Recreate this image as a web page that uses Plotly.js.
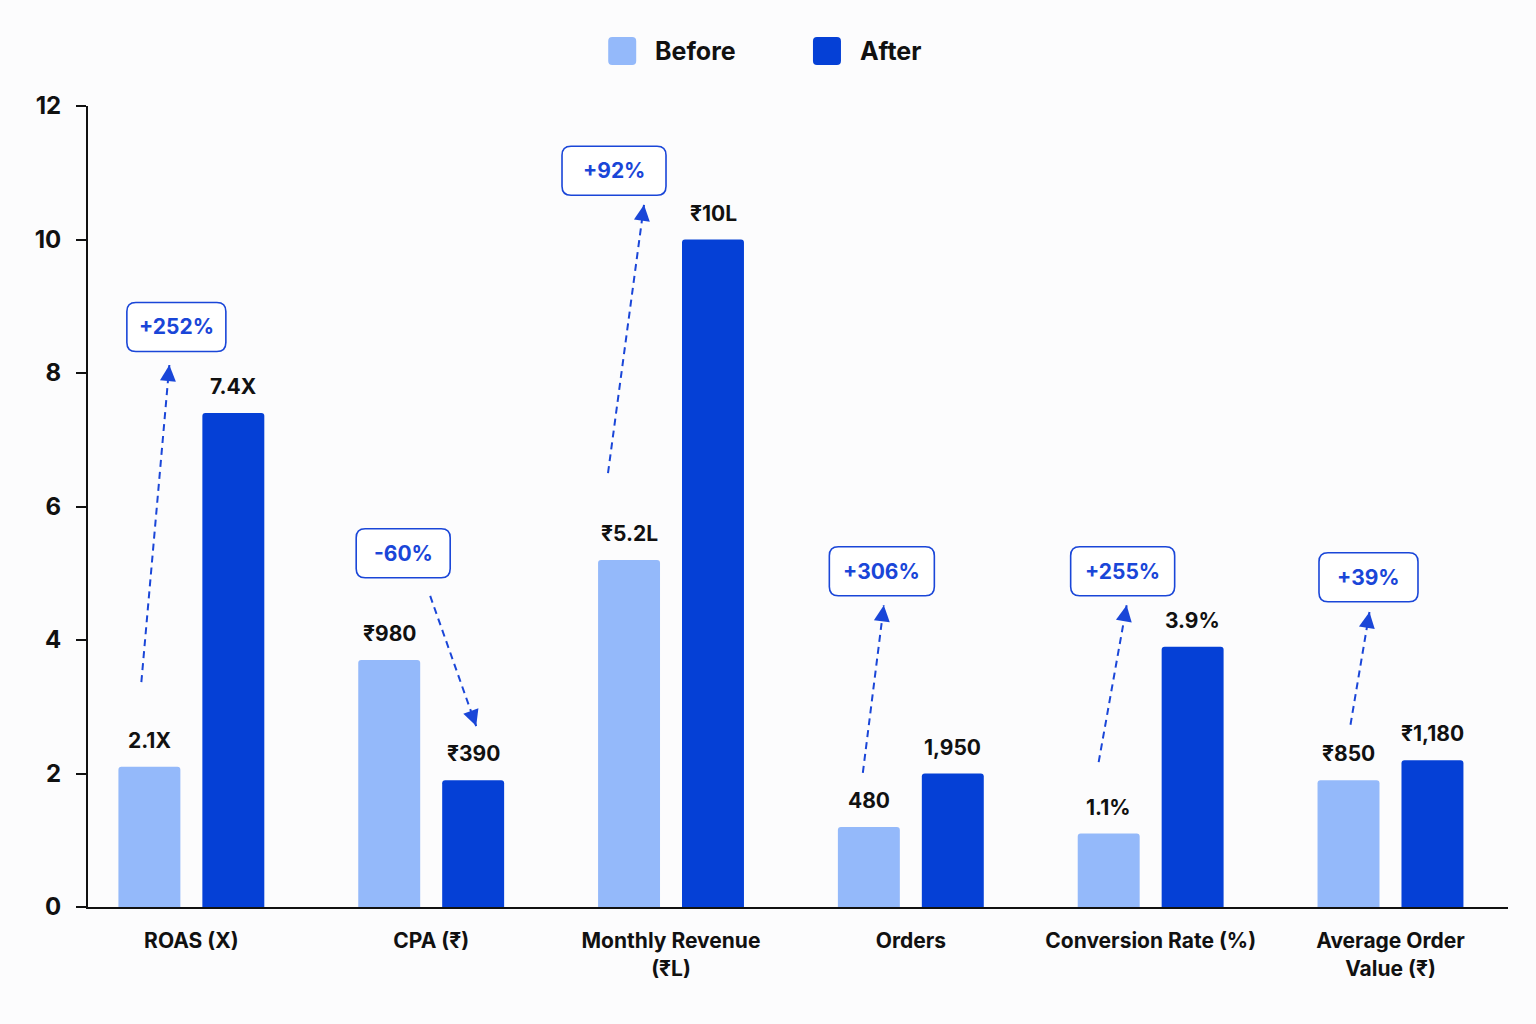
<!DOCTYPE html>
<html>
<head>
<meta charset="utf-8">
<script src="https://cdn.plot.ly/plotly-3.0.1.min.js"></script>
<style>
  html, body { margin: 0; padding: 0; background: #fcfcfd; }
  #chart { width: 1536px; height: 1024px; }
</style>
</head>
<body>
<div id="chart"></div>
<script>
// Campaign metrics, before vs after
const categories = ['ROAS (X)', 'CPA (₹)', 'Monthly Revenue<br>(₹L)', 'Orders', 'Conversion Rate (%)', 'Average Order<br>Value (₹)'];
const beforeValues = [2.1, 3.7, 5.2, 1.2, 1.1, 1.9];
const afterValues = [7.4, 1.9, 10, 2.0, 3.9, 2.2];
const beforeLabels = ['2.1X', '₹980', '₹5.2L', '480', '1.1%', '₹850'];
const afterLabels = ['7.4X', '₹390', '₹10L', '1,950', '3.9%', '₹1,180'];
const changeLabels = ['+252%', '-60%', '+92%', '+306%', '+255%', '+39%'];
const yTicks = [0, 2, 4, 6, 8, 10, 12];

// Callout placement per group: pixel offsets from group centre, heights in axis units
const callouts = [
  { tail: { dx: -50, y: 3.37 }, tip: { dx: -22, y: 8.12 }, badge: { dx: -15, y: 8.69, w: 99 } },
  { tail: { dx: -1, y: 4.66 }, tip: { dx: 45, y: 2.71 }, badge: { dx: -28, y: 5.30, w: 94 } },
  { tail: { dx: -63, y: 6.50 }, tip: { dx: -27, y: 10.52 }, badge: { dx: -57, y: 11.03, w: 104 } },
  { tail: { dx: -48, y: 2.01 }, tip: { dx: -27, y: 4.52 }, badge: { dx: -29, y: 5.03, w: 105 } },
  { tail: { dx: -52, y: 2.17 }, tip: { dx: -24, y: 4.52 }, badge: { dx: -28, y: 5.03, w: 104 } },
  { tail: { dx: -40, y: 2.73 }, tip: { dx: -21, y: 4.42 }, badge: { dx: -22, y: 4.94, w: 99 } }
];

const BEFORE = '#94b9fa';
const AFTER = '#0540d6';
const ACCENT = '#1a46d8';
const INK = '#111111';
const FONT = 'Inter, "Noto Sans", sans-serif';

const W = 1536, H = 1024;
const margin = { l: 88, r: 28, t: 106, b: 117 };
const yRange = [0, 12];
const pxPerUnit = (H - margin.t - margin.b) / (yRange[1] - yRange[0]);
const barShift = 42;

function roundRectPath(cx, w, h, r) {
  const x0 = cx - w / 2, x1 = cx + w / 2, y0 = -h / 2, y1 = h / 2;
  return `M${x0 + r},${y0} L${x1 - r},${y0} Q${x1},${y0} ${x1},${y0 + r} ` +
         `L${x1},${y1 - r} Q${x1},${y1} ${x1 - r},${y1} L${x0 + r},${y1} ` +
         `Q${x0},${y1} ${x0},${y1 - r} L${x0},${y0 + r} Q${x0},${y0} ${x0 + r},${y0} Z`;
}

const traces = [
  { type: 'bar', name: 'Before', x: categories, y: beforeValues, marker: { color: BEFORE, cornerradius: 3 }, hoverinfo: 'skip', showlegend: false },
  { type: 'bar', name: 'After', x: categories, y: afterValues, marker: { color: AFTER, cornerradius: 3 }, hoverinfo: 'skip', showlegend: false }
];

const annotations = [];
const shapes = [];

categories.forEach((c, i) => {
  annotations.push({ x: i, y: beforeValues[i], xref: 'x', yref: 'y', text: beforeLabels[i], showarrow: false,
    xshift: -barShift, yshift: 12, yanchor: 'bottom', font: { family: FONT, size: 21, color: INK, weight: 700 } });
  annotations.push({ x: i, y: afterValues[i], xref: 'x', yref: 'y', text: afterLabels[i], showarrow: false,
    xshift: barShift, yshift: 12, yanchor: 'bottom', font: { family: FONT, size: 21, color: INK, weight: 700 } });

  const co = callouts[i];
  // dashed shaft
  shapes.push({ type: 'line', xref: 'x', yref: 'y', xsizemode: 'pixel', xanchor: i,
    x0: co.tail.dx, x1: co.tip.dx, y0: co.tail.y, y1: co.tip.y,
    line: { color: ACCENT, width: 2, dash: '7px,5px' } });
  // arrowhead at the tip
  const vx = co.tail.dx - co.tip.dx;
  const vy = -(co.tail.y - co.tip.y) * pxPerUnit;
  const len = Math.hypot(vx, vy);
  annotations.push({ x: i, y: co.tip.y, xref: 'x', yref: 'y', xshift: co.tip.dx, text: '',
    showarrow: true, arrowhead: 2, arrowsize: 1.6, arrowwidth: 2, arrowcolor: ACCENT,
    axref: 'pixel', ayref: 'pixel', ax: vx / len * 14, ay: vy / len * 14 });
  // change badge
  shapes.push({ type: 'path', xref: 'x', yref: 'y', xsizemode: 'pixel', ysizemode: 'pixel',
    xanchor: i, yanchor: co.badge.y, path: roundRectPath(co.badge.dx, co.badge.w, 49, 9),
    fillcolor: '#ffffff', line: { color: ACCENT, width: 1.6 } });
  annotations.push({ x: i, y: co.badge.y, xref: 'x', yref: 'y', xshift: co.badge.dx, text: changeLabels[i],
    showarrow: false, font: { family: FONT, size: 21, color: ACCENT, weight: 700 } });
});

// legend
const legendItems = [
  { name: 'Before', color: BEFORE, sx: 0.3762, tx: 0.3979 },
  { name: 'After', color: AFTER, sx: 0.5204, tx: 0.5423 }
];
legendItems.forEach(it => {
  shapes.push({ type: 'path', xref: 'paper', yref: 'paper', xsizemode: 'pixel', ysizemode: 'pixel',
    xanchor: it.sx, yanchor: 1.0687, path: roundRectPath(0, 28, 28, 4),
    fillcolor: it.color, line: { width: 0 } });
  annotations.push({ x: it.tx, y: 1.0687, xref: 'paper', yref: 'paper', xanchor: 'left', yanchor: 'middle',
    text: it.name, showarrow: false, font: { family: FONT, size: 25, color: INK, weight: 700 } });
});

const layout = {
  width: W, height: H,
  margin: margin,
  paper_bgcolor: '#fcfcfd', plot_bgcolor: '#fcfcfd',
  barmode: 'group', bargap: 0.3, bargroupgap: 0.262,
  showlegend: false,
  font: { family: FONT, color: INK },
  xaxis: {
    type: 'category', range: [-0.431, 5.49], showgrid: false, zeroline: false,
    showline: true, linecolor: INK, linewidth: 2, ticks: '', ticklabelstandoff: 14,
    tickfont: { family: FONT, size: 21, color: INK, weight: 700 }, fixedrange: true
  },
  yaxis: {
    range: yRange, tickvals: yTicks, showgrid: false, zeroline: false,
    showline: true, linecolor: INK, linewidth: 2, ticks: 'outside', ticklen: 10, tickwidth: 2, tickcolor: INK,
    ticklabelstandoff: 10, tickfont: { family: FONT, size: 24, color: INK, weight: 700 }, fixedrange: true
  },
  shapes: shapes,
  annotations: annotations
};

Plotly.newPlot('chart', traces, layout, { staticPlot: true, displayModeBar: false });
</script>
</body>
</html>
